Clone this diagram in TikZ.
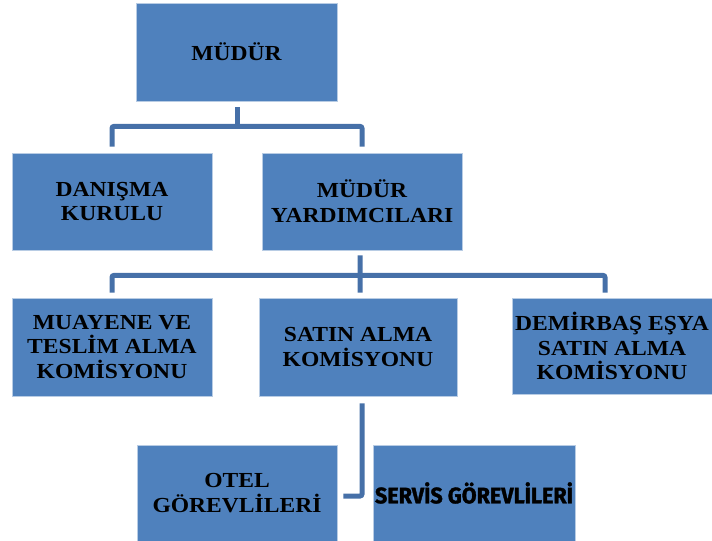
\documentclass[tikz,border=0pt]{standalone}
\usepackage{fontspec}
\setmainfont{Liberation Serif}
\newfontfamily\boxfont[FakeStretch=1.1]{Liberation Serif}
\newfontfamily\servfont[FakeBold=1.5]{Fira Sans Bold}
\definecolor{boxblue}{HTML}{4F81BD}
\definecolor{linkblue}{HTML}{4670A8}
\definecolor{edgeblue}{HTML}{B8CCE4}
\tikzset{
  box/.style={draw=edgeblue, line width=0.8bp, fill=boxblue, minimum width=200bp, minimum height=97bp,
    inner sep=0pt, align=center, font=\boxfont\bfseries\fontsize{21.5}{25}\selectfont, text=black},
  conn/.style={draw=linkblue, line width=5bp, rounded corners=2bp}
}
\begin{document}
\begin{tikzpicture}[x=1bp, y=-1bp]
\useasboundingbox (0,0) rectangle (712,541);
\node[box, minimum width=201bp, minimum height=98bp] (mudur) at (236.5,52) {MÜDÜR};
\node[box] (danisma) at (112,201.5) {DANIŞMA\\KURULU};
\node[box] (yard) at (362,201.5) {MÜDÜR\\YARDIMCILARI};
\node[box, minimum height=98bp] (muayene) at (112,347) {MUAYENE VE\\TESLİM ALMA\\KOMİSYONU};
\node[box, minimum width=198bp, minimum height=98bp] (satin) at (358,347) {SATIN ALMA\\KOMİSYONU};
\node[box, minimum height=96bp] (demirbas) at (612,346) {DEMİRBAŞ EŞYA\\SATIN ALMA\\KOMİSYONU};
\node[box, minimum height=96bp] (otel) at (237,493) {OTEL\\GÖREVLİLERİ};
\node[box, minimum width=202bp, minimum height=96bp, font=\servfont\fontsize{22.5}{25}\selectfont] (servis) at (474,493)
  {\resizebox{198bp}{\height}{SERVİS GÖREVLİLERİ}};
% level 1 -> 2
\draw[conn] ([xshift=0.5bp,yshift=-6bp]mudur.south) -- ++(0,19) coordinate (j1);
\draw[conn] ([yshift=6bp]danisma.north) |- (j1) -| ([yshift=6bp]yard.north);
% level 2 -> 3
\draw[conn] ([xshift=-2bp,yshift=-5bp]yard.south) -- ([xshift=2bp,yshift=5bp]satin.north);
\coordinate (j2) at ([xshift=-2bp,yshift=-25bp]yard.south);
\draw[conn] ([yshift=5bp]muayene.north) |- (j2) -| ([xshift=-7bp,yshift=5bp]demirbas.north);
% level 3 -> 4
\coordinate (e4) at ([xshift=6bp]otel.east |- 0,496);
\draw[conn] ([xshift=4bp,yshift=-7bp]satin.south) |- (e4);
\end{tikzpicture}
\end{document}
